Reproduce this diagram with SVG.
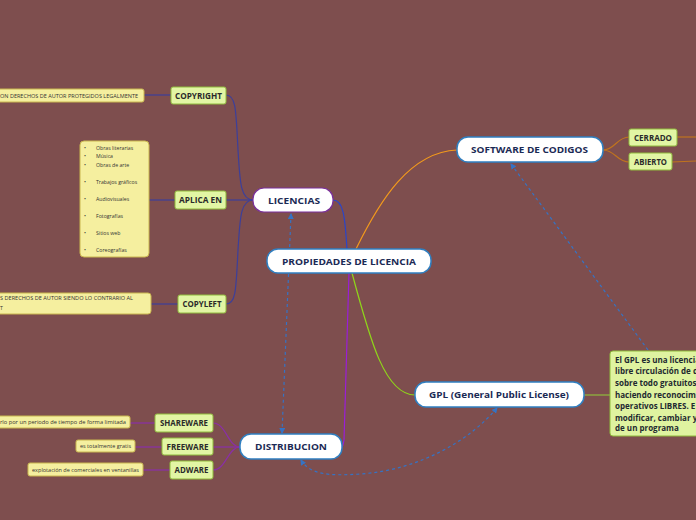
<svg xmlns="http://www.w3.org/2000/svg" width="696" height="520" viewBox="0 0 696 520">
<defs>
<style>
.main{fill:#ffffff;stroke:#2f7fc1;stroke-width:1.5}
.mt{font-family:"Open Sans","Noto Sans",sans-serif;font-weight:bold;font-size:9.5px;fill:#1b2a55}
.sub{fill:#e2f5a4;stroke:#8fbb3c;stroke-width:1}
.st{font-family:"Open Sans","Noto Sans",sans-serif;font-weight:bold;font-size:8px;fill:#2a2a2a}
.note{fill:#f5ef9f;stroke:#c9b64e;stroke-width:1}
.nt{font-family:"Open Sans","Noto Sans",sans-serif;font-size:5.2px;fill:#333}
.gn{fill:#dff3a0;stroke:#8fbb3c;stroke-width:1}
.gt{font-family:"Open Sans","Noto Sans",sans-serif;font-weight:bold;font-size:8px;fill:#1e2a30}
.c{fill:none;stroke-width:1.2}
.dash{fill:none;stroke:#3573c4;stroke-width:1.2;stroke-dasharray:3 3}
</style>
<marker id="ah" viewBox="0 0 6 6" refX="5" refY="3" markerWidth="5" markerHeight="5" orient="auto-start-reverse">
<path d="M0,0 L6,3 L0,6 z" fill="#3573c4"/>
</marker>
</defs>
<rect x="0" y="0" width="696" height="520" fill="#7e4e4e"/>
<g id="connectors">
<path class="c" stroke="#2a45c8" d="M333,200 C343,200 345,215 347,250"/>
<path class="c" stroke="#f39a1c" d="M356,249 C380,200 410,152 457,150"/>
<path class="c" stroke="#8fd61a" d="M352,273 C370,340 385,395 415,395"/>
<path class="c" stroke="#9a1ed8" d="M349,273 L344,440 C343,446 342,447 342,447"/>
<path class="c" stroke="#3c3f9a" d="M253,200 C240,200 240,180 238,150 C236,110 236,95 226,95"/>
<path class="c" stroke="#3c3f9a" d="M253,200 L226,200"/>
<path class="c" stroke="#3c3f9a" d="M253,200 C240,200 240,220 238,250 C236,290 236,304 226,304"/>
<path class="c" stroke="#3c3f9a" d="M171,95 L144,95"/>
<path class="c" stroke="#3c3f9a" d="M175,200 L149,200"/>
<path class="c" stroke="#3c3f9a" d="M178,304 L151,304"/>
<path class="c" stroke="#8a2fa8" d="M240,447 C228,447 226,423 213,423"/>
<path class="c" stroke="#8a2fa8" d="M240,447 L213,447"/>
<path class="c" stroke="#8a2fa8" d="M240,447 C228,447 226,470 213,470"/>
<path class="c" stroke="#8a2fa8" d="M155,423 L130,423"/>
<path class="c" stroke="#8a2fa8" d="M162,447 L135,447"/>
<path class="c" stroke="#8a2fa8" d="M170,470 L143,470"/>
<path class="c" stroke="#c0741e" d="M603,150 C615,150 617,137 629,137"/>
<path class="c" stroke="#c0741e" d="M603,150 C615,150 617,162 629,162"/>
<path class="c" stroke="#c0741e" d="M677,137 L696,137"/>
<path class="c" stroke="#c0741e" d="M672,162 L696,161"/>
<path class="c" stroke="#8fbb3c" d="M584,395 L610,395"/>
<path class="dash" marker-start="url(#ah)" marker-end="url(#ah)" d="M291,214 L282,433"/>
<path class="dash" marker-start="url(#ah)" d="M511,164 L648,350"/>
<path class="dash" marker-start="url(#ah)" marker-end="url(#ah)" d="M301,460 C310,475 330,476 360,474 C420,470 470,440 497,408"/>
</g>
<g id="n-propiedades"><rect class="main" x="267" y="249" width="164" height="24" rx="11"/><text class="mt" x="349" y="264.5" text-anchor="middle" textLength="134" lengthAdjust="spacingAndGlyphs">PROPIEDADES DE LICENCIA</text></g>
<g id="n-licencias"><rect x="253" y="188" width="80" height="24" rx="11" fill="#fff" stroke="#7a2f9c" stroke-width="1.2"/><text class="mt" x="294" y="203.5" text-anchor="middle" textLength="52" lengthAdjust="spacingAndGlyphs">LICENCIAS</text></g>
<g id="n-software"><rect class="main" x="457" y="137" width="146" height="25" rx="11"/><text class="mt" x="529.5" y="153" text-anchor="middle" textLength="117" lengthAdjust="spacingAndGlyphs">SOFTWARE DE CODIGOS</text></g>
<g id="n-gpl"><rect class="main" x="415" y="382" width="169" height="25" rx="11"/><text class="mt" x="499" y="398" text-anchor="middle" textLength="140" lengthAdjust="spacingAndGlyphs">GPL (General Public License)</text></g>
<g id="n-distribucion"><rect class="main" x="240" y="434" width="102" height="25" rx="11"/><text class="mt" x="291" y="450" text-anchor="middle" textLength="72" lengthAdjust="spacingAndGlyphs">DISTRIBUCION</text></g>
<g id="n-copyright"><rect class="sub" x="171" y="87" width="55" height="17" rx="2"/><text class="st" x="198.5" y="98.5" text-anchor="middle" textLength="47" lengthAdjust="spacingAndGlyphs">COPYRIGHT</text></g>
<g id="n-aplica"><rect class="sub" x="175" y="191" width="51" height="18" rx="2"/><text class="st" x="200.5" y="203" text-anchor="middle" textLength="43" lengthAdjust="spacingAndGlyphs">APLICA EN</text></g>
<g id="n-copyleft"><rect class="sub" x="178" y="295" width="48" height="18" rx="2"/><text class="st" x="202" y="307" text-anchor="middle" textLength="39" lengthAdjust="spacingAndGlyphs">COPYLEFT</text></g>
<g id="n-shareware"><rect class="sub" x="155" y="414" width="58" height="18" rx="2"/><text class="st" x="184" y="426" text-anchor="middle" textLength="48" lengthAdjust="spacingAndGlyphs">SHAREWARE</text></g>
<g id="n-freeware"><rect class="sub" x="162" y="438" width="51" height="17" rx="2"/><text class="st" x="187.5" y="449.5" text-anchor="middle" textLength="42" lengthAdjust="spacingAndGlyphs">FREEWARE</text></g>
<g id="n-adware"><rect class="sub" x="170" y="461" width="43" height="18" rx="2"/><text class="st" x="191.5" y="473" text-anchor="middle" textLength="34" lengthAdjust="spacingAndGlyphs">ADWARE</text></g>
<g id="n-cerrado"><rect class="sub" x="629" y="129" width="48" height="17" rx="2"/><text class="st" x="653" y="140.5" text-anchor="middle" textLength="38" lengthAdjust="spacingAndGlyphs">CERRADO</text></g>
<g id="n-abierto"><rect class="sub" x="629" y="153" width="43" height="17" rx="2"/><text class="st" x="650.5" y="164.5" text-anchor="middle" textLength="33" lengthAdjust="spacingAndGlyphs">ABIERTO</text></g>
<g id="n-note-copyright"><rect class="note" x="-10" y="89" width="154" height="13" rx="2"/><text class="nt" x="0" y="97.5" textLength="138" lengthAdjust="spacingAndGlyphs">ON DERECHOS DE AUTOR PROTEGIDOS LEGALMENTE</text></g>
<g id="n-note-aplica"><rect class="note" x="80" y="141" width="69" height="116" rx="4"/>
<g class="nt">
<text x="84" y="150">•</text><text x="96" y="150">Obras literarias</text>
<text x="84" y="158">•</text><text x="96" y="158">Música</text>
<text x="84" y="167">•</text><text x="96" y="167">Obras de arte</text>
<text x="84" y="184">•</text><text x="96" y="184">Trabajos gráficos</text>
<text x="84" y="201">•</text><text x="96" y="201">Audiovisuales</text>
<text x="84" y="218">•</text><text x="96" y="218">Fotografías</text>
<text x="84" y="235">•</text><text x="96" y="235">Sitios web</text>
<text x="84" y="252">•</text><text x="96" y="252">Coreografías</text>
</g></g>
<g id="n-note-copyleft"><rect class="note" x="-10" y="293" width="161" height="21" rx="3"/><text class="nt" x="0" y="300" textLength="133" lengthAdjust="spacingAndGlyphs">S DERECHOS DE AUTOR SIENDO LO CONTRARIO AL</text><text class="nt" x="0" y="310">T</text></g>
<g id="n-note-shareware"><rect class="note" x="-10" y="416" width="140" height="12" rx="2"/><text class="nt" x="0" y="424" textLength="126" lengthAdjust="spacingAndGlyphs">rlo por un periodo de tiempo de forma limitada</text></g>
<g id="n-note-freeware"><rect class="note" x="76" y="440" width="59" height="12" rx="2"/><text class="nt" x="80" y="448" textLength="51" lengthAdjust="spacingAndGlyphs">es totalmente gratis</text></g>
<g id="n-note-adware"><rect class="note" x="28" y="463" width="115" height="13" rx="2"/><text class="nt" x="32" y="471.5" textLength="107" lengthAdjust="spacingAndGlyphs">explotación de comerciales en ventanillas</text></g>
<g id="n-note-gpl"><rect class="gn" x="610" y="351" width="100" height="85" rx="3"/>
<g class="gt">
<text x="615" y="363">El GPL es una licencia</text>
<text x="615" y="374">libre circulación de d</text>
<text x="615" y="386">sobre todo gratuitos</text>
<text x="615" y="398">haciendo reconocim</text>
<text x="615" y="409">operativos LIBRES. E</text>
<text x="615" y="421">modificar, cambiar y</text>
<text x="615" y="431">de un programa</text>
</g></g>
</svg>
